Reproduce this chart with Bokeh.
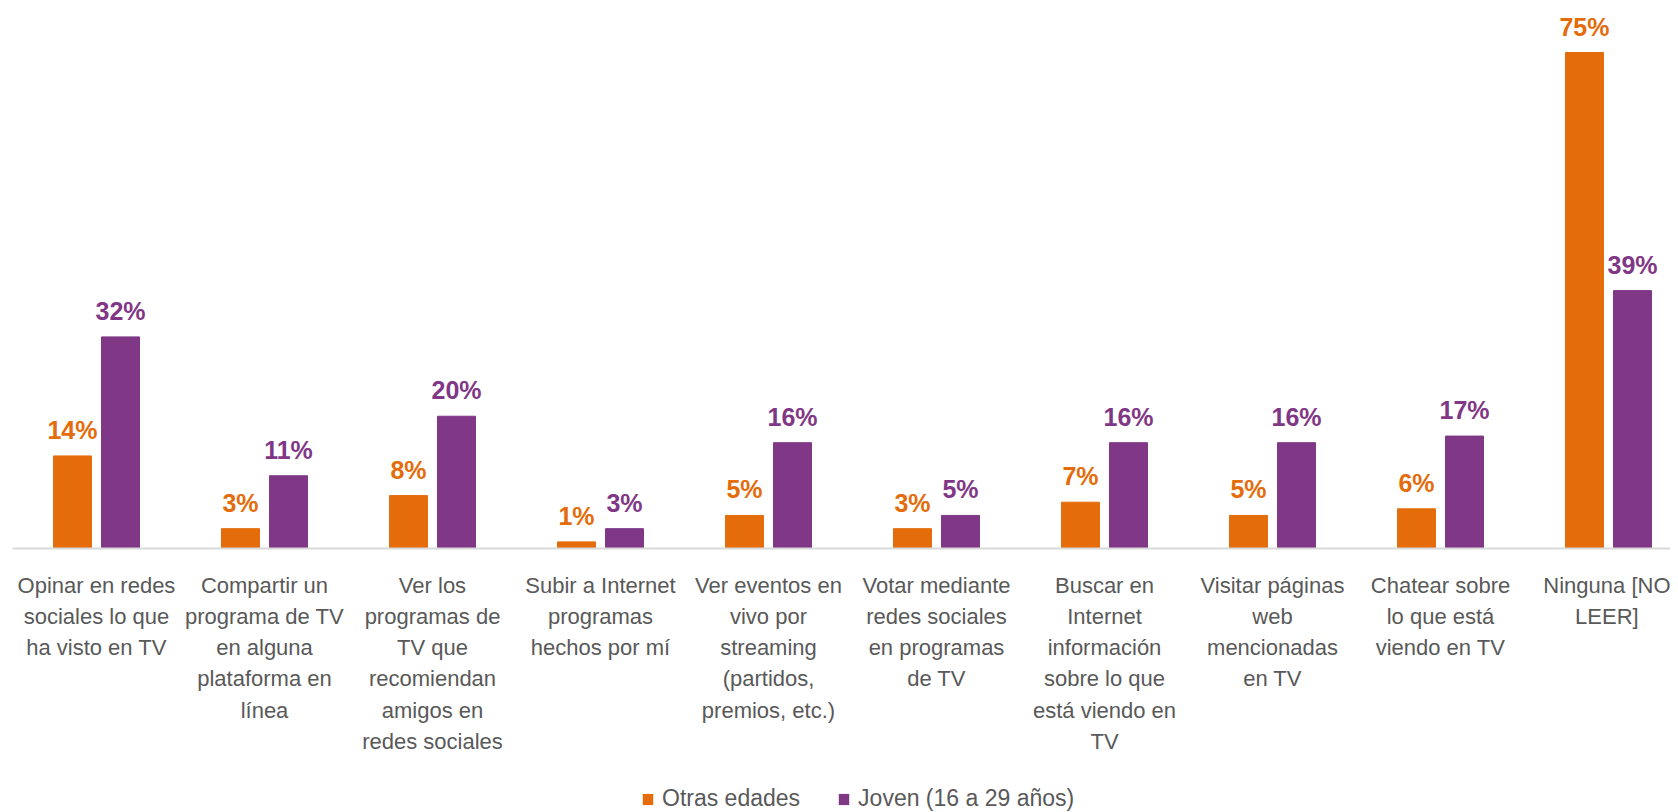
from bokeh.plotting import figure
from bokeh.models import ColumnDataSource, Range1d, FixedTicker, Legend, LegendItem
from bokeh.layouts import column
from bokeh.transform import dodge
from bokeh.core.properties import value
from bokeh.embed import file_html
from bokeh.resources import INLINE

categories = [
    "Opinar en redes\nsociales lo que\nha visto en TV",
    "Compartir un\nprograma de TV\nen alguna\nplataforma en\nlínea",
    "Ver los\nprogramas de\nTV que\nrecomiendan\namigos en\nredes sociales",
    "Subir a Internet\nprogramas\nhechos por mí",
    "Ver eventos en\nvivo por\nstreaming\n(partidos,\npremios, etc.)",
    "Votar mediante\nredes sociales\nen programas\nde TV",
    "Buscar en\nInternet\ninformación\nsobre lo que\nestá viendo en\nTV",
    "Visitar páginas\nweb\nmencionadas\nen TV",
    "Chatear sobre\nlo que está\nviendo en TV",
    "Ninguna [NO\nLEER]",
]
otras = [14, 3, 8, 1, 5, 3, 7, 5, 6, 75]
joven = [32, 11, 20, 3, 16, 5, 16, 16, 17, 39]
series_names = ["Otras edades", "Joven (16 a 29 años)"]

ORANGE = "#E46C0A"
PURPLE = "#7F3786"
GRAY = "#595959"
FONT = "Liberation Sans"

pos = [i + 0.5 for i in range(len(categories))]
src = ColumnDataSource(dict(
    x=pos, otras=otras, joven=joven,
    otras_lbl=[f"{v}%" for v in otras],
    joven_lbl=[f"{v}%" for v in joven],
))

p = figure(frame_width=1658, frame_height=540, x_range=Range1d(0, 1658 / 168),
           y_range=Range1d(0, 81.66), output_backend="svg",
           toolbar_location=None, min_border_left=12, min_border_right=0,
           min_border_top=8, min_border_bottom=212)
p.outline_line_color = None
p.xgrid.visible = False
p.ygrid.visible = False
p.yaxis.visible = False

bw = 0.226
off = 0.143
r1 = p.vbar(x=dodge("x", -off, range=p.x_range), top="otras", width=bw,
            source=src, color=ORANGE)
r2 = p.vbar(x=dodge("x", off, range=p.x_range), top="joven", width=bw,
            source=src, color=PURPLE)

p.text(x=dodge("x", -off, range=p.x_range), y="otras", text="otras_lbl",
       source=src, text_color=ORANGE, text_font=value(FONT),
       text_font_style="bold", text_font_size="25px", text_align="center",
       text_baseline="alphabetic", y_offset=-26)
p.text(x=dodge("x", off, range=p.x_range), y="joven", text="joven_lbl",
       source=src, text_color=PURPLE, text_font=value(FONT),
       text_font_style="bold", text_font_size="25px", text_align="center",
       text_baseline="alphabetic", y_offset=-26)

ax = p.xaxis[0]
ax.ticker = FixedTicker(ticks=pos)
ax.major_label_overrides = {x: c for x, c in zip(pos, categories)}
ax.major_tick_line_color = None
ax.minor_tick_line_color = None
ax.axis_line_color = "#D9D9D9"
ax.axis_line_width = 2
ax.major_label_standoff = 18
ax.major_label_text_font = FONT
ax.major_label_text_font_size = "22px"
ax.major_label_text_line_height = 1.25
ax.major_label_text_color = GRAY

# legend strip below the chart (its bars lie far outside its visible ranges)
p2 = figure(width=1670, height=52, x_range=Range1d(100, 101),
            y_range=Range1d(1000, 1001), output_backend="svg",
            toolbar_location=None, min_border=0)
p2.outline_line_color = None
p2.xgrid.visible = False
p2.ygrid.visible = False
p2.xaxis.visible = False
p2.yaxis.visible = False
l1 = p2.vbar(x="x", top="otras", width=0.1, source=src,
             fill_color=ORANGE, line_color=None)
l2 = p2.vbar(x="x", top="joven", width=0.1, source=src,
             fill_color=PURPLE, line_color=None)

legend = Legend(items=[LegendItem(label=series_names[0], renderers=[l1]),
                       LegendItem(label=series_names[1], renderers=[l2])],
                orientation="horizontal", location=(629, 0),
                border_line_color=None, background_fill_alpha=0,
                label_text_font=FONT, label_text_font_size="23px",
                label_text_color=GRAY, glyph_width=13, glyph_height=14,
                label_standoff=8, spacing=37, margin=0, padding=0)
p2.add_layout(legend, "center")

layout = column(p, p2, spacing=0)
open("out.html", "w").write(file_html(layout, INLINE))
